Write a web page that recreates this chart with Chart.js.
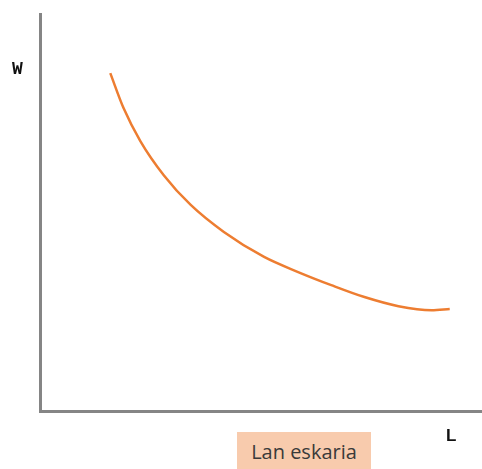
<!DOCTYPE html>
<html>
<head>
<meta charset="utf-8">
<script src="https://cdn.jsdelivr.net/npm/chart.js@4"></script>
<style>
  html, body { margin: 0; padding: 0; background: #fff; }
  #wrap { position: relative; width: 482px; height: 469px; }
  #lineChart { position: absolute; left: 0; top: 0; }
  .lbl { position: absolute; }
  #wLbl { left: 12px; top: 59px; font: bold 18px "Liberation Mono", "DejaVu Sans Mono", monospace; color: #111; }
  #lLbl { left: 446px; top: 426px; font: bold 17px "Liberation Sans", Arial, sans-serif; color: #111; }
  #demand { left: 237px; top: 432px; width: 134px; height: 37px; background: #F8CBAD;
            font: 20px "Open Sans", sans-serif; color: #3a3a3a; text-align: center; line-height: 40px; }
</style>
</head>
<body>
<div id="wrap">
  <canvas id="lineChart" width="482" height="469"></canvas>
  <div class="lbl" id="wLbl">W</div>
  <div class="lbl" id="lLbl">L</div>
  <div class="lbl" id="demand">Lan eskaria</div>
</div>
<script>
// lan eskariaren kurba (L, W)
const labourL = [15.9, 18.9, 22.7, 28.0, 34.1, 41.6, 50.7, 58.4, 65.9, 73.4, 81.1, 88.6, 92.7];
const wageW  = [85.1, 76.3, 68.0, 59.4, 51.9, 45.1, 38.8, 35.0, 31.7, 28.7, 26.4, 25.4, 25.7];

const points = labourL.map((l, i) => ({ x: l, y: wageW[i] }));

const axisGray = '#858585';

new Chart(document.getElementById('lineChart'), {
    type: 'scatter',
    data: {
        datasets: [{
            data: points,
            showLine: true,
            borderColor: '#ED7D31',
            borderWidth: 2.5,
            pointRadius: 0,
            cubicInterpolationMode: 'monotone',
            fill: false
        }]
    },
    options: {
        responsive: false,
        animation: false,
        layout: { padding: { left: 32, top: 14, right: 0, bottom: 50 } },
        plugins: { legend: { display: false }, tooltip: { enabled: false } },
        scales: {
            x: {
                min: 0, max: 100,
                ticks: { display: false },
                grid: { display: false },
                border: { display: true, color: axisGray, width: 3 }
            },
            y: {
                min: 0, max: 100,
                ticks: { display: false },
                grid: { display: false },
                border: { display: true, color: axisGray, width: 3 }
            }
        }
    }
});
</script>
</body>
</html>
